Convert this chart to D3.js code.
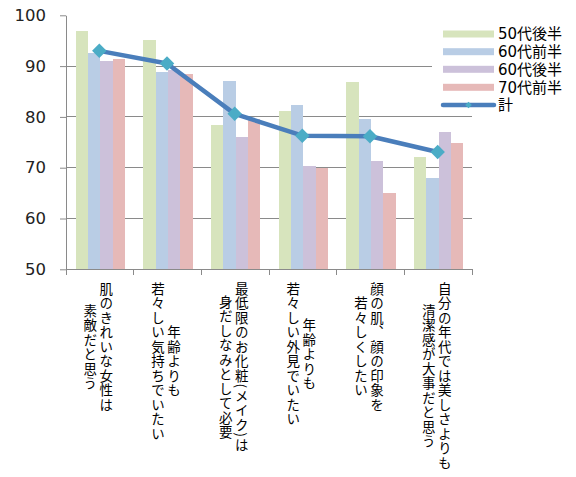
<!DOCTYPE html>
<html><head><meta charset="utf-8">
<script src="https://cdn.jsdelivr.net/npm/d3@7"></script>
<style>body{margin:0;background:#fff}svg{display:block}</style>
</head><body>
<script>
const categories = ["c1","c2","c3","c4","c5","c6"];
const categoryLabels = [
  ["肌のきれいな女性は","素敵だと思う"],
  ["年齢よりも","若々しい気持ちでいたい"],
  ["最低限のお化粧(メイク)は","身だしなみとして必要"],
  ["年齢よりも","若々しい外見でいたい"],
  ["顔の肌、顔の印象を","若々しくしたい"],
  ["自分の年代では美しさよりも","清潔感が大事だと思う"]
];
const seriesNames = ["50代後半","60代前半","60代後半","70代前半"];
const s50late = [96.9, 95.1, 78.4, 81.2, 86.8, 72.1];
const s60early = [92.6, 88.9, 87.0, 82.4, 79.6, 68.0];
const s60late = [91.0, 89.3, 76.1, 70.3, 71.3, 77.0];
const s70early = [91.4, 88.4, 79.6, 69.9, 65.1, 74.9];
const totalName = "計";
const total = [93.0, 90.5, 80.6, 76.3, 76.2, 73.1];
const yTicks = [50,60,70,80,90,100];
const seriesValues = [s50late, s60early, s60late, s70early];
const colors = ["#d7e4bd","#b9cde5","#ccc1da","#e6b9b8"];

const W=576,H=477;
const svg=d3.select("body").append("svg").attr("width",W).attr("height",H);
svg.append("rect").attr("width",W).attr("height",H).attr("fill","#fff");

const y=d3.scaleLinear().domain([50,100]).range([269.3,15.3]);
const x=d3.scaleBand().domain(categories).range([66,472]);
const xs=d3.scaleBand().domain(seriesNames).range([9.5,59]);

// gridlines
svg.append("g").selectAll("line").data(yTicks.filter(t=>t>50&&t<100)).join("line")
  .attr("x1",66).attr("x2",472).attr("y1",d=>y(d)).attr("y2",d=>y(d))
  .attr("stroke","#8a8a8a").attr("stroke-width",1).attr("shape-rendering","crispEdges");

// bars
const gb=svg.append("g");
seriesNames.forEach((s,si)=>{
  gb.append("g").selectAll("rect").data(categories).join("rect")
    .attr("x",c=>x(c)+xs(s)).attr("width",xs.bandwidth())
    .attr("y",(c,i)=>y(seriesValues[si][i])).attr("height",(c,i)=>y(50)-y(seriesValues[si][i]))
    .attr("fill",colors[si]).attr("shape-rendering","crispEdges");
});

// line
const line=d3.line().x((d,i)=>x(categories[i])+x.bandwidth()/2-0.5).y(d=>y(d));
svg.append("path").datum(total).attr("d",line).attr("fill","none")
  .attr("stroke","#4a7ebb").attr("stroke-width",4.5).attr("stroke-linejoin","round");
const sym=d3.symbol(d3.symbolSquare,105);
svg.append("g").selectAll("path").data(total).join("path")
  .attr("d",sym).attr("fill","#4bacc6")
  .attr("transform",(d,i)=>`translate(${x(categories[i])+x.bandwidth()/2-0.5},${y(d)}) rotate(45)`);

// y axis
const ya=svg.append("g").attr("transform","translate(66,0)")
  .call(d3.axisLeft(y).tickValues(yTicks).tickSize(6).tickPadding(14).tickSizeOuter(0));
ya.select(".domain").attr("stroke","#8a8a8a");
ya.selectAll(".tick line").attr("stroke","#8a8a8a");
ya.selectAll("text").attr("font-family","DejaVu Sans").attr("font-size","16.5px").attr("fill","#222");

// x axis
const xa=svg.append("g").attr("transform","translate(0,269.3)");
xa.append("line").attr("x1",66).attr("x2",472).attr("stroke","#8a8a8a").attr("shape-rendering","crispEdges");
const bounds=categories.map(c=>x(c)).concat([x.range()[1]]);
xa.selectAll(".tk").data(bounds).join("line").attr("class","tk")
  .attr("x1",d=>d).attr("x2",d=>d).attr("y1",0).attr("y2",6)
  .attr("stroke","#8a8a8a").attr("shape-rendering","crispEdges");

// vertical labels
const adv=14.5, labelTop=282;
const gl=svg.append("g");
categories.forEach((c,i)=>{
  const lines=categoryLabels[i];
  const cx=x(c)+x.bandwidth()/2;
  const texts=lines.map((l,j)=>gl.append("text").text(l)
      .attr("x",cx+6.5-j*16)
      .attr("text-anchor","middle")
      .style("writing-mode","vertical-rl")
      .style("letter-spacing","1px")
      .attr("font-family","Noto Sans CJK JP").attr("font-size","13.5px").attr("fill","#000"));
  const maxH=d3.max(texts,t=>t.node().getComputedTextLength());
  texts.forEach(t=>t.attr("y",labelTop+maxH/2));
});

// legend
const lg=svg.append("g");
lg.append("rect").attr("x",432).attr("y",24).attr("width",144).attr("height",88).attr("fill","#fff");
const ly=[34,51.7,69.3,87.3];
seriesNames.forEach((s,i)=>{
  lg.append("rect").attr("x",443).attr("y",ly[i]-3.5).attr("width",51).attr("height",7).attr("fill",colors[i]);
  lg.append("text").text(s).attr("x",498).attr("y",ly[i]).attr("dy","0.36em")
    .attr("font-family","DejaVu Sans, Noto Sans CJK JP").attr("font-size","15px").attr("fill","#000");
});
lg.append("line").attr("x1",443).attr("x2",494).attr("y1",105).attr("y2",105)
  .attr("stroke","#4a7ebb").attr("stroke-width",4.5).attr("stroke-linecap","round");
lg.append("path").attr("d",d3.symbol(d3.symbolSquare,22)).attr("fill","#4bacc6")
  .attr("transform","translate(468.5,105) rotate(45)");
lg.append("text").text(totalName).attr("x",498).attr("y",105).attr("dy","0.36em")
  .attr("font-family","DejaVu Sans, Noto Sans CJK JP").attr("font-size","15px").attr("fill","#000");
</script>
</body></html>
